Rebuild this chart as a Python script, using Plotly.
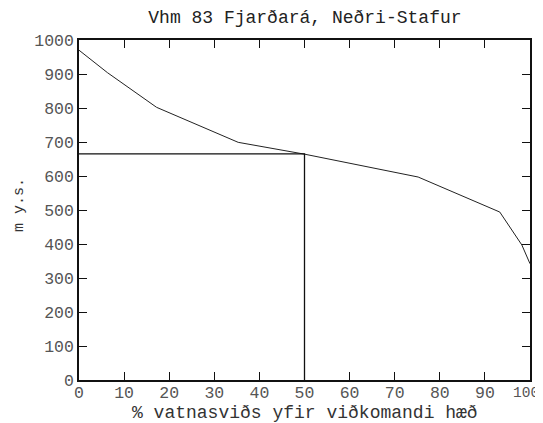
import plotly.graph_objects as go

# Hypsometric curve: % of catchment above given elevation
pct_area = [0, 6.3, 17.2, 35.3, 50.1, 75.2, 93.3, 98.2, 100]
elevation = [970, 904, 802, 699, 664, 597, 494, 397, 342]

# Median elevation (50 % of catchment area)
median_pct = 50
median_elev = 665

x_ticks = [0, 10, 20, 30, 40, 50, 60, 70, 80, 90, 100]
y_ticks = [0, 100, 200, 300, 400, 500, 600, 700, 800, 900, 1000]

title_text = "Vhm 83 Fjarðará, Neðri-Stafur"
x_title = "% vatnasviðs yfir viðkomandi hæð"
y_title = "m y.s."

font_family = "Liberation Mono, DejaVu Sans Mono, monospace"

# last x tick label is drawn separately (slightly smaller, shifted left as in the original)
x_tick_text = [str(v) for v in x_ticks[:-1]] + [""]

fig = go.Figure()
fig.add_trace(go.Scatter(x=pct_area, y=elevation, mode="lines",
                         line=dict(color="#222", width=1), showlegend=False))
fig.add_trace(go.Scatter(x=[x_ticks[0], median_pct, median_pct],
                         y=[median_elev, median_elev, y_ticks[0]], mode="lines",
                         line=dict(color="#111", width=1.3), showlegend=False))

axis_common = dict(
    showgrid=False, zeroline=False, showline=True, linecolor="#111", linewidth=1.6,
    mirror="ticks", ticks="inside", ticklen=8, tickcolor="#111", tickwidth=1,
    tickfont=dict(family=font_family, size=16.5, color="#555"),
    automargin=False, ticklabeloverflow="allow",
)

fig.update_layout(
    width=535, height=415,
    margin=dict(l=71, r=13, t=32, b=43),
    paper_bgcolor="white", plot_bgcolor="white",
    title=dict(text=title_text, x=0.555, xanchor="center", y=0.978, yanchor="middle",
               font=dict(family=font_family, size=18, color="#222")),
    xaxis=dict(range=[0, 100], tickvals=x_ticks, ticktext=x_tick_text,
               ticklabelstandoff=-4, **axis_common),
    yaxis=dict(range=[0, 1000], tickvals=y_ticks, **axis_common),
    annotations=[
        dict(text=str(x_ticks[-1]), xref="x", yref="paper", x=x_ticks[-1], y=-0.038,
             xanchor="center", yanchor="middle", showarrow=False, xshift=-4,
             font=dict(family=font_family, size=14.5, color="#555")),
        dict(text=x_title, xref="paper", yref="paper", x=0.502, y=-0.098,
             xanchor="center", yanchor="middle", showarrow=False,
             font=dict(family=font_family, size=18, color="#333")),
        dict(text=y_title, xref="paper", yref="paper", x=-0.1308, y=0.515,
             xanchor="center", yanchor="middle", showarrow=False, textangle=-90,
             font=dict(family=font_family, size=15, color="#333")),
    ],
)

fig.write_html("out.html")
